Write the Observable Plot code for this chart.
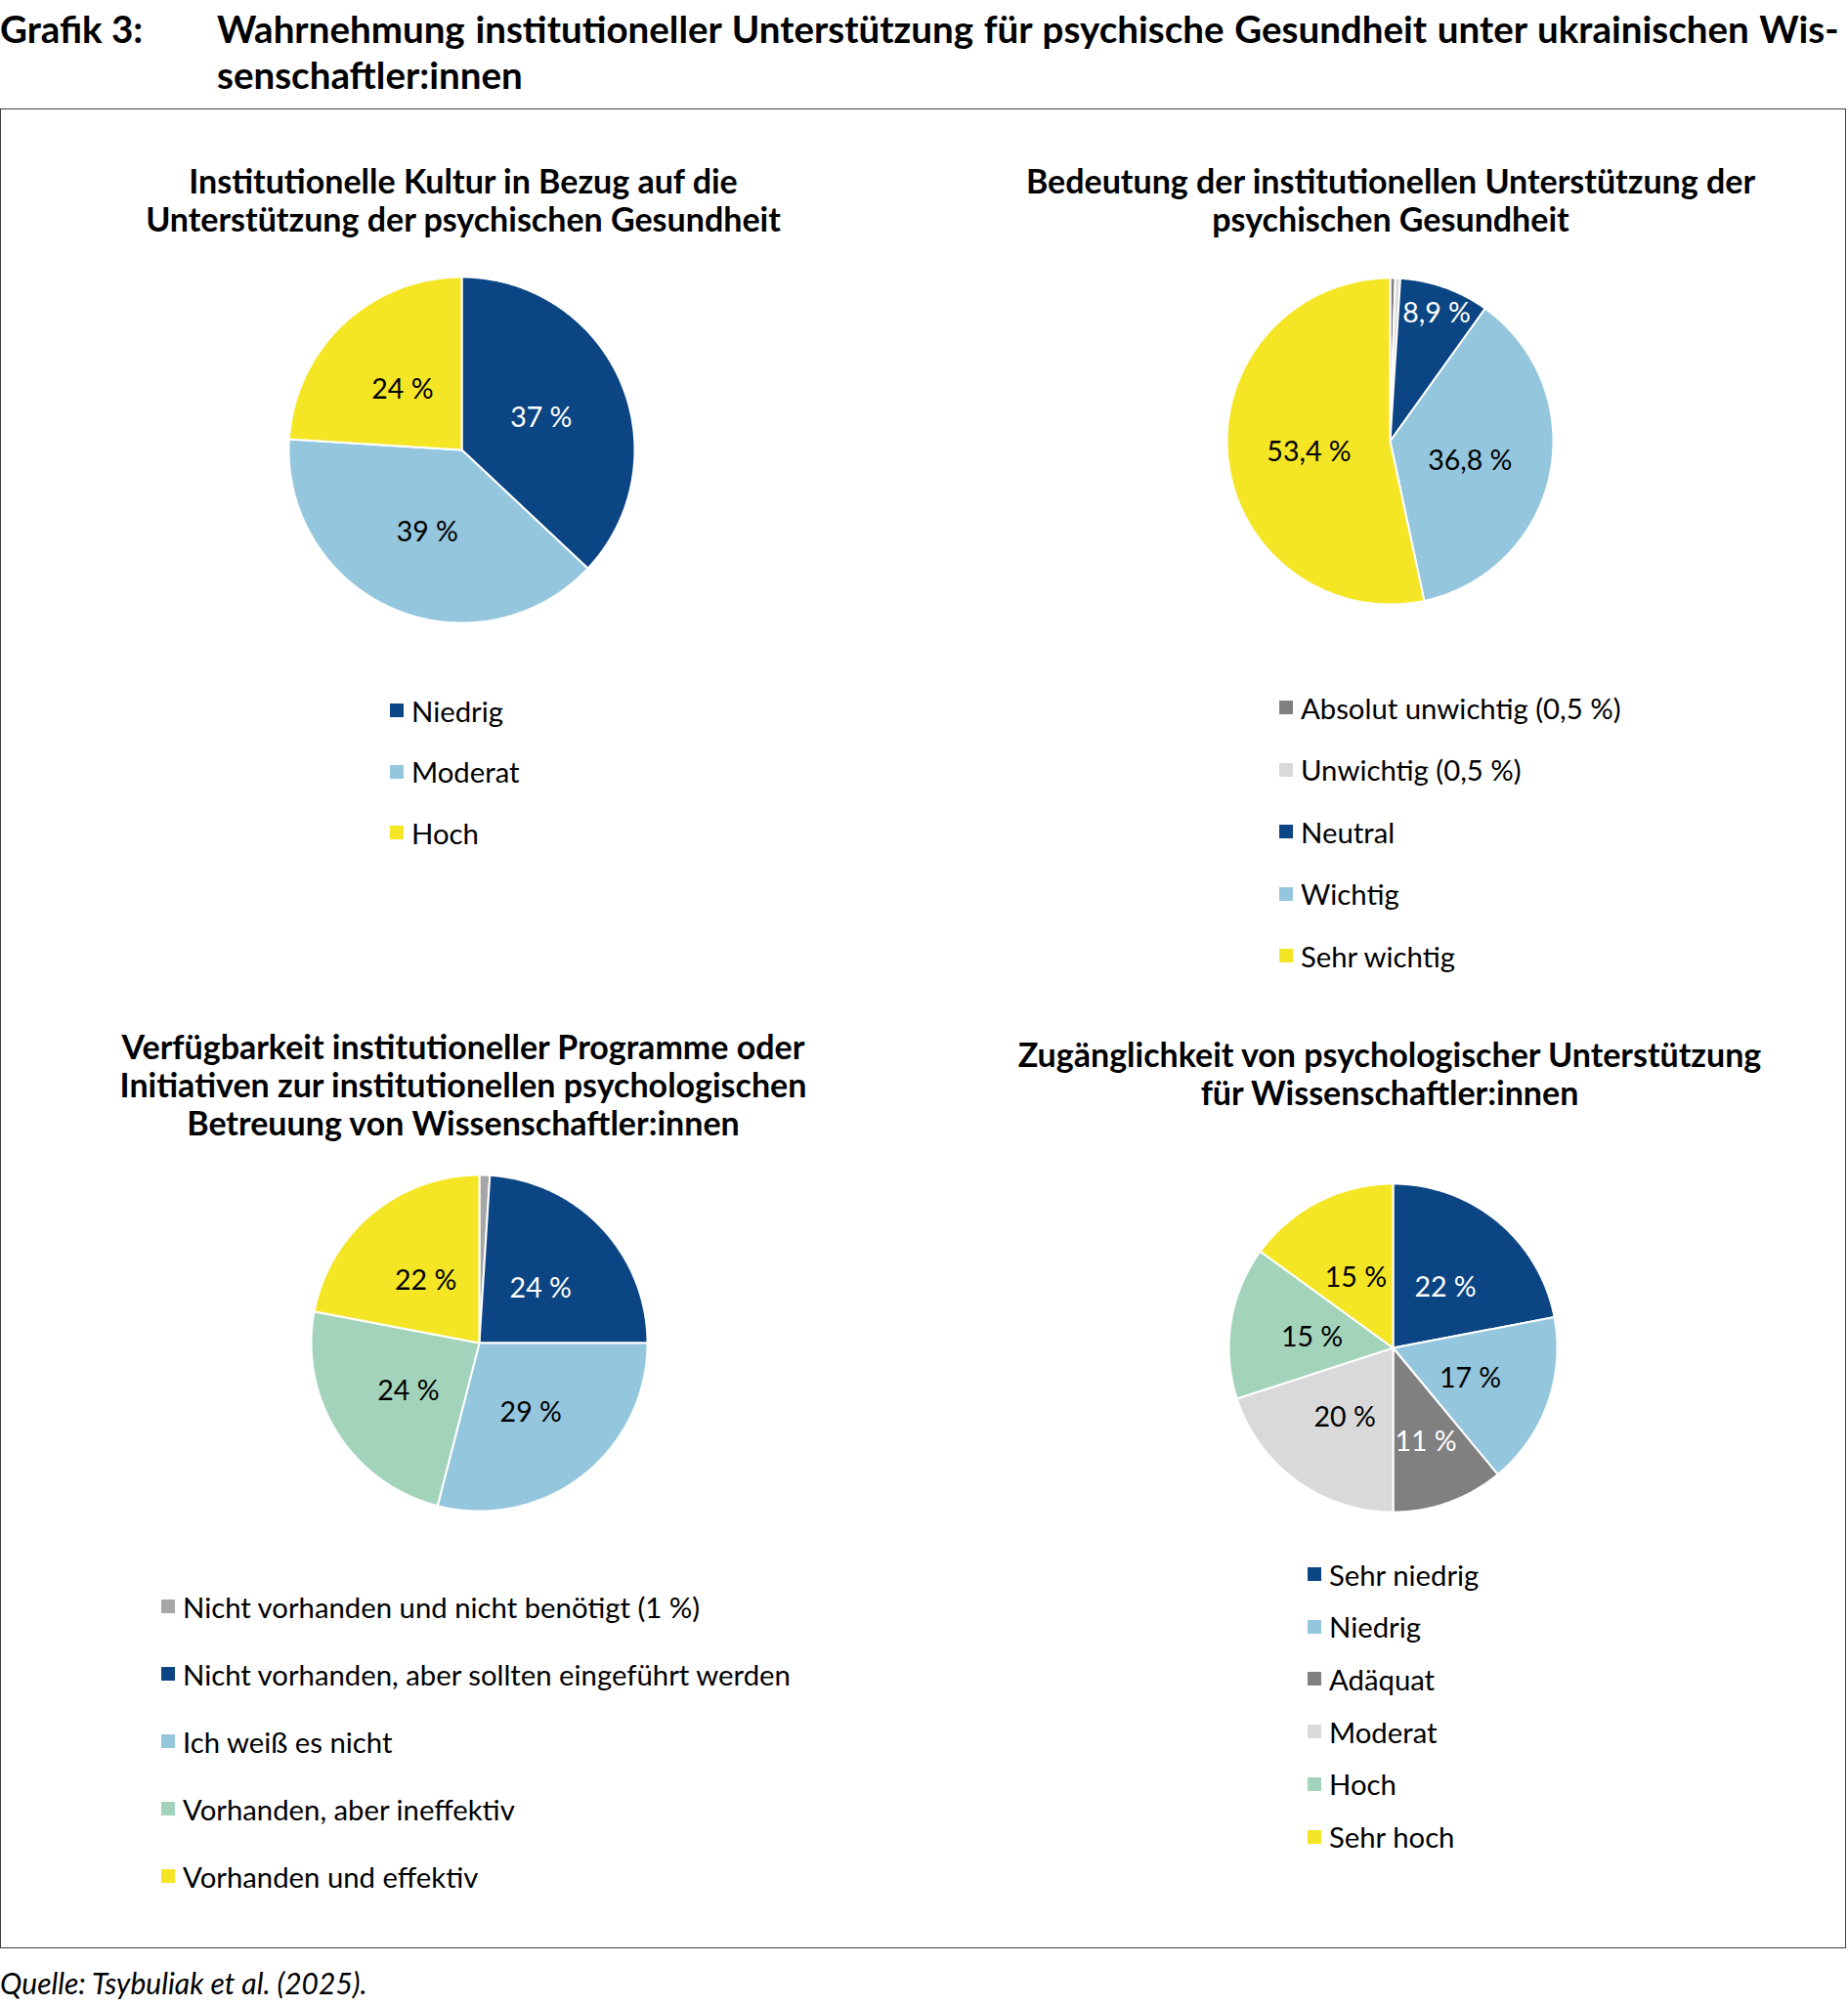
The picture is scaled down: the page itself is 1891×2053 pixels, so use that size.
<!DOCTYPE html>
<html>
<head>
<meta charset="utf-8">
<script src="https://cdn.jsdelivr.net/npm/d3@7"></script>
<script src="https://cdn.jsdelivr.net/npm/@observablehq/plot@0.6"></script>
<style>
  body { margin: 0; background: #fff; font-family: Lato, "Open Sans", sans-serif; color: #000; }
  #page { position: relative; width: 1891px; height: 2053px; overflow: hidden; }
  .abs { position: absolute; }
  .main-label { font-weight: 700; font-size: 38.5px; line-height: 47px; white-space: nowrap; }
  .frame { border: 1.5px solid #404040; box-sizing: border-box; }
  .ctitle { font-weight: 700; font-size: 34px; line-height: 39px; text-align: center; white-space: nowrap; width: 900px; }
  .lrow { position: absolute; height: 40px; display: flex; align-items: center; font-size: 29.3px; white-space: nowrap; }
  .lsq { width: 14px; height: 14px; margin-right: 8px; flex: none; }
  .source { font-style: italic; font-size: 30px; line-height: 40px; white-space: nowrap; }
</style>
</head>
<body>
<div id="page"></div>
<script>
// ---------------- DATA ----------------
const mainLabel = "Grafik 3:";
const mainTitleLines = ["Wahrnehmung institutioneller Unterstützung für psychische Gesundheit unter ukrainischen Wis-", "senschaftler:innen"];
const sourceText = "Quelle: Tsybuliak et al. (2025).";

const chart1Title = ["Institutionelle Kultur in Bezug auf die", "Unterstützung der psychischen Gesundheit"];
const chart1Categories = ["Niedrig", "Moderat", "Hoch"];
const chart1Values = [37, 39, 24];
const chart1Labelled = [true, true, true];

const chart2Title = ["Bedeutung der institutionellen Unterstützung der", "psychischen Gesundheit"];
const chart2Categories = ["Absolut unwichtig (0,5 %)", "Unwichtig (0,5 %)", "Neutral", "Wichtig", "Sehr wichtig"];
const chart2Values = [0.5, 0.5, 8.9, 36.8, 53.4];
const chart2Labelled = [false, false, true, true, true];

const chart3Title = ["Verfügbarkeit institutioneller Programme oder", "Initiativen zur institutionellen psychologischen", "Betreuung von Wissenschaftler:innen"];
const chart3Categories = ["Nicht vorhanden und nicht benötigt (1 %)", "Nicht vorhanden, aber sollten eingeführt werden", "Ich weiß es nicht", "Vorhanden, aber ineffektiv", "Vorhanden und effektiv"];
const chart3Values = [1, 24, 29, 24, 22];
const chart3Labelled = [false, true, true, true, true];

const chart4Title = ["Zugänglichkeit von psychologischer Unterstützung", "für Wissenschaftler:innen"];
const chart4Categories = ["Sehr niedrig", "Niedrig", "Adäquat", "Moderat", "Hoch", "Sehr hoch"];
const chart4Values = [22, 17, 11, 20, 15, 15];
const chart4Labelled = [true, true, true, true, true, true];

// ---------------- STYLES ----------------
const C = { dblue: "#0b4583", lblue: "#94c6de", yellow: "#f5e625", green: "#a3d4bb", gray: "#808080", lgray: "#d9d9d9", mgray: "#a6a6a6" };
const chart1Colors = [C.dblue, C.lblue, C.yellow];
const chart2Colors = [C.gray, C.lgray, C.dblue, C.lblue, C.yellow];
const chart3Colors = [C.mgray, C.dblue, C.lblue, C.green, C.yellow];
const chart4Colors = [C.dblue, C.lblue, C.gray, C.lgray, C.green, C.yellow];
const chart1LabelFill = ["white", "black", "black"];
const chart2LabelFill = ["black", "black", "white", "black", "black"];
const chart3LabelFill = ["black", "white", "black", "black", "black"];
const chart4LabelFill = ["white", "black", "white", "black", "black", "black"];
const chart1LabelR = [0.5, 0.5, 0.5];
const chart2LabelR = [0.5, 0.5, 0.85, 0.5, 0.5];
const chart3LabelR = [0.5, 0.5, 0.5, 0.5, 0.5];
const chart4LabelR = [0.5, 0.5, 0.59, 0.5, 0.5, 0.5];

const layouts = [
  { title: chart1Title, cats: chart1Categories, vals: chart1Values, lab: chart1Labelled, colors: chart1Colors, lfill: chart1LabelFill, lr: chart1LabelR,
    titleX: 474, titleY: 184, cx: 472, cy: 460, r: 177, legSqX: 399, legY0: 727, legDY: 62.5 },
  { title: chart2Title, cats: chart2Categories, vals: chart2Values, lab: chart2Labelled, colors: chart2Colors, lfill: chart2LabelFill, lr: chart2LabelR,
    titleX: 1423, titleY: 184, cx: 1422, cy: 451, r: 167, legSqX: 1309, legY0: 724, legDY: 63.5 },
  { title: chart3Title, cats: chart3Categories, vals: chart3Values, lab: chart3Labelled, colors: chart3Colors, lfill: chart3LabelFill, lr: chart3LabelR,
    titleX: 474, titleY: 1070, cx: 490, cy: 1374, r: 172, legSqX: 165, legY0: 1644, legDY: 69 },
  { title: chart4Title, cats: chart4Categories, vals: chart4Values, lab: chart4Labelled, colors: chart4Colors, lfill: chart4LabelFill, lr: chart4LabelR,
    titleX: 1422, titleY: 1078, cx: 1425, cy: 1379, r: 168, legSqX: 1338, legY0: 1611, legDY: 53.7 }
];

const page = document.getElementById("page");
function el(tag, cls, style, html) {
  const e = document.createElement(tag);
  if (cls) e.className = cls;
  if (style) Object.assign(e.style, style);
  if (html !== undefined) e.innerHTML = html;
  page.appendChild(e);
  return e;
}

// header
el("div", "abs main-label", { left: "0px", top: (29 - 23.5) + "px" }, mainLabel);
el("div", "abs main-label", { left: "222px", top: (29 - 23.5) + "px" },
  '<span style="word-spacing:1.4px">' + mainTitleLines[0] + "</span><br>" + mainTitleLines[1]);
el("div", "abs frame", { left: "0px", top: "111px", width: "1889px", height: "1883px" });
el("div", "abs source", { left: "0px", top: (2029 - 20) + "px" }, sourceText);

const fmt = v => v.toLocaleString("de-DE") + " %";

layouts.forEach(L => {
  // title
  el("div", "abs ctitle", { left: (L.titleX - 450) + "px", top: (L.titleY - 19.5) + "px" }, L.title.join("<br>"));

  // pie
  const half = L.r + 12;
  const S = 2 * half;
  const k = half / L.r;
  const arcs = d3.pie().sort(null).value(d => d)(L.vals);
  const pts = [];
  const labels = [];
  arcs.forEach((a, i) => {
    const cat = L.cats[i];
    const n = Math.max(2, Math.ceil((a.endAngle - a.startAngle) / (Math.PI / 360)));
    pts.push({ cat, x: 0, y: 0 });
    for (let j = 0; j <= n; j++) {
      const t = a.startAngle + (a.endAngle - a.startAngle) * j / n;
      pts.push({ cat, x: Math.sin(t), y: -Math.cos(t) });
    }
    pts.push({ cat, x: 0, y: 0 });
    if (L.lab[i]) {
      const m = (a.startAngle + a.endAngle) / 2;
      labels.push({ text: fmt(L.vals[i]), x: L.lr[i] * Math.sin(m), y: -L.lr[i] * Math.cos(m), fill: L.lfill[i] });
    }
  });

  const plot = Plot.plot({
    width: S, height: S, margin: 0,
    style: { fontFamily: "Lato", background: "transparent", overflow: "visible" },
    x: { domain: [-k, k], range: [0, S], axis: null },
    y: { domain: [-k, k], range: [0, S], axis: null },
    color: { domain: L.cats, range: L.colors },
    marks: [
      Plot.line(pts, { x: "x", y: "y", z: "cat", fill: "cat", stroke: "white", strokeWidth: 2, curve: "linear", strokeLinejoin: "miter" }),
      Plot.text(labels.filter(d => d.fill === "white"), { x: "x", y: "y", text: "text", fill: "white", fontSize: 28.5, fontFamily: "Lato", dy: 3 }),
      Plot.text(labels.filter(d => d.fill !== "white"), { x: "x", y: "y", text: "text", fill: "black", fontSize: 28.5, fontFamily: "Lato", dy: 3 })
    ]
  });
  plot.style.position = "absolute";
  plot.style.left = (L.cx - half) + "px";
  plot.style.top = (L.cy - half) + "px";
  page.appendChild(plot);

  // legend
  L.cats.forEach((c, i) => {
    const row = el("div", "lrow", { left: L.legSqX + "px", top: (L.legY0 + i * L.legDY - 20) + "px" });
    const sq = document.createElement("span");
    sq.className = "lsq";
    sq.style.background = L.colors[i];
    const tx = document.createElement("span");
    tx.textContent = c;
    row.appendChild(sq);
    row.appendChild(tx);
  });
});
</script>
</body>
</html>
